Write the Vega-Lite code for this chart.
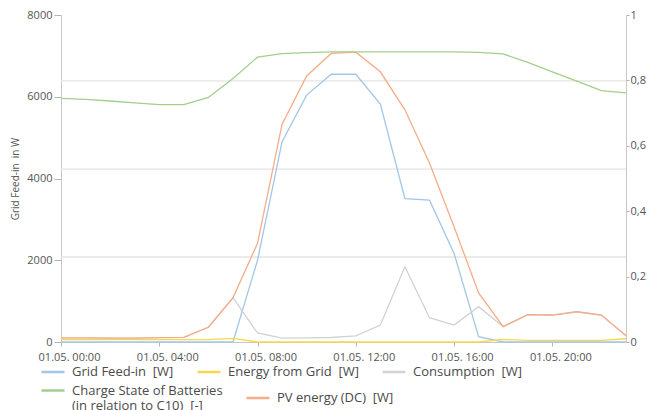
{
  "$schema": "https://vega.github.io/schema/vega-lite/v6.json",
  "width": 565,
  "height": 327,
  "autosize": {"type": "none"},
  "padding": {"left": 61, "top": 15, "right": 25, "bottom": 68},
  "background": "white",
  "config": {
    "font": "Open Sans",
    "view": {"stroke": null},
    "axis": {"labelColor": "#555", "labelFontSize": 11, "domainColor": "#c8c8c8", "tickColor": "#b5b5b5", "grid": false, "labelFont": "Open Sans"},
    "legend": {"title": null, "direction": "horizontal", "symbolType": "stroke", "symbolSize": 529, "symbolStrokeWidth": 2.5, "labelFontSize": 13, "labelColor": "#4a4a4a", "labelFont": "Open Sans", "columnPadding": 18, "labelLimit": 400, "labelOffset": 6, "padding": 0}
  },
  "data": {"values": [
    {"t": "2021-05-01T00:00", "feed": 0, "grid": 60, "cons": 100, "pv": 100, "soc": 0.745},
    {"t": "2021-05-01T01:00", "feed": 0, "grid": 60, "cons": 100, "pv": 100, "soc": 0.742},
    {"t": "2021-05-01T02:00", "feed": 0, "grid": 60, "cons": 95, "pv": 95, "soc": 0.737},
    {"t": "2021-05-01T03:00", "feed": 0, "grid": 60, "cons": 95, "pv": 95, "soc": 0.731},
    {"t": "2021-05-01T04:00", "feed": 0, "grid": 60, "cons": 105, "pv": 105, "soc": 0.726},
    {"t": "2021-05-01T05:00", "feed": 0, "grid": 60, "cons": 115, "pv": 115, "soc": 0.726},
    {"t": "2021-05-01T06:00", "feed": 0, "grid": 60, "cons": 360, "pv": 360, "soc": 0.748},
    {"t": "2021-05-01T07:00", "feed": 0, "grid": 90, "cons": 1085, "pv": 1080, "soc": 0.806},
    {"t": "2021-05-01T08:00", "feed": 2000, "grid": 0, "cons": 220, "pv": 2415, "soc": 0.871},
    {"t": "2021-05-01T09:00", "feed": 4900, "grid": 0, "cons": 95, "pv": 5330, "soc": 0.882},
    {"t": "2021-05-01T10:00", "feed": 6040, "grid": 0, "cons": 100, "pv": 6510, "soc": 0.885},
    {"t": "2021-05-01T11:00", "feed": 6550, "grid": 0, "cons": 110, "pv": 7060, "soc": 0.887},
    {"t": "2021-05-01T12:00", "feed": 6550, "grid": 0, "cons": 150, "pv": 7090, "soc": 0.887},
    {"t": "2021-05-01T13:00", "feed": 5820, "grid": 0, "cons": 415, "pv": 6610, "soc": 0.887},
    {"t": "2021-05-01T14:00", "feed": 3510, "grid": 0, "cons": 1840, "pv": 5680, "soc": 0.887},
    {"t": "2021-05-01T15:00", "feed": 3470, "grid": 0, "cons": 595, "pv": 4380, "soc": 0.887},
    {"t": "2021-05-01T16:00", "feed": 2170, "grid": 0, "cons": 415, "pv": 2820, "soc": 0.887},
    {"t": "2021-05-01T17:00", "feed": 130, "grid": 0, "cons": 865, "pv": 1200, "soc": 0.886},
    {"t": "2021-05-01T18:00", "feed": 0, "grid": 65, "cons": 375, "pv": 375, "soc": 0.881},
    {"t": "2021-05-01T19:00", "feed": 0, "grid": 40, "cons": 670, "pv": 670, "soc": 0.855},
    {"t": "2021-05-01T20:00", "feed": 0, "grid": 40, "cons": 660, "pv": 660, "soc": 0.826},
    {"t": "2021-05-01T21:00", "feed": 0, "grid": 40, "cons": 740, "pv": 740, "soc": 0.798},
    {"t": "2021-05-01T22:00", "feed": 0, "grid": 40, "cons": 660, "pv": 660, "soc": 0.769},
    {"t": "2021-05-01T23:00", "feed": 0, "grid": 80, "cons": 155, "pv": 155, "soc": 0.762}
  ]},
  "layer": [
    {
      "layer": [
        {
          "data": {"values": [{"g": 2080}, {"g": 4230}, {"g": 6390}]},
          "mark": {"type": "rule", "color": "#e4e4e4", "strokeWidth": 1.3},
          "encoding": {
            "y": {"field": "g", "type": "quantitative", "scale": {"domain": [0, 8000], "nice": false, "zero": true},
              "axis": {"title": "Grid Feed-in\u00a0 in W", "titleFontSize": 10, "titleFontWeight": "normal", "titleColor": "#555", "titlePadding": 6, "values": [0, 2000, 4000, 6000, 8000], "tickSize": 7, "labelPadding": 2, "format": "d"}}
          }
        },
        {
          "transform": [{"fold": ["feed", "grid", "cons"], "as": ["series", "value"]}],
          "mark": {"type": "line", "strokeWidth": 1.3},
          "encoding": {
            "x": {"field": "t", "type": "temporal", "title": null,
              "scale": {"domain": [{"year": 2021, "month": 5, "date": 1, "hours": 0}, {"year": 2021, "month": 5, "date": 1, "hours": 23}]},
              "axis": {"values": [{"year": 2021, "month": 5, "date": 1, "hours": 0}, {"year": 2021, "month": 5, "date": 1, "hours": 4}, {"year": 2021, "month": 5, "date": 1, "hours": 8}, {"year": 2021, "month": 5, "date": 1, "hours": 12}, {"year": 2021, "month": 5, "date": 1, "hours": 16}, {"year": 2021, "month": 5, "date": 1, "hours": 20}],
                "format": "%d.%m. %H:%M", "labelOffset": 8, "tickSize": 4, "labelPadding": 5, "labelFlush": false, "labelOverlap": false}},
            "y": {"field": "value", "type": "quantitative", "scale": {"domain": [0, 8000], "nice": false, "zero": true},
              "axis": {"title": "Grid Feed-in\u00a0 in W", "titleFontSize": 10, "titleFontWeight": "normal", "titleColor": "#555", "titlePadding": 6, "values": [0, 2000, 4000, 6000, 8000], "tickSize": 7, "labelPadding": 2, "format": "d"}},
            "color": {"field": "series", "type": "nominal",
              "scale": {"domain": ["feed", "grid", "cons"], "range": ["#a3c6e8", "#f8d74e", "#d2d2d2"]},
              "legend": {"orient": "none", "legendX": -21, "legendY": 344, "columns": 3,
                "labelExpr": "datum.value == 'feed' ? 'Grid Feed-in\u00a0 [W]' : datum.value == 'grid' ? 'Energy from Grid\u00a0 [W]' : 'Consumption\u00a0 [W]'"}}
          }
        },
        {
          "mark": {"type": "line", "strokeWidth": 1.3},
          "encoding": {
            "x": {"field": "t", "type": "temporal", "title": null},
            "y": {"field": "pv", "type": "quantitative", "scale": {"domain": [0, 8000], "nice": false, "zero": true},
              "axis": {"title": "Grid Feed-in\u00a0 in W", "titleFontSize": 10, "titleFontWeight": "normal", "titleColor": "#555", "titlePadding": 6, "values": [0, 2000, 4000, 6000, 8000], "tickSize": 7, "labelPadding": 2, "format": "d"}},
            "stroke": {"datum": "pv", "type": "nominal",
              "scale": {"domain": ["soc", "pv"], "range": ["#a2cf8a", "#f4ad86"]},
              "legend": {"orient": "none", "legendX": -21, "legendY": 362.5, "columns": 2,
                "labelExpr": "datum.value == 'soc' ? ['Charge State of Batteries', '(in relation to C10)\u00a0 [-]'] : 'PV energy (DC)\u00a0 [W]'"}}
          }
        }
      ]
    },
    {
      "mark": {"type": "line", "strokeWidth": 1.3},
      "encoding": {
        "x": {"field": "t", "type": "temporal", "title": null},
        "y": {"field": "soc", "type": "quantitative", "scale": {"domain": [0, 1], "nice": false},
          "axis": {"orient": "right", "title": null, "values": [0, 0.2, 0.4, 0.6, 0.8, 1], "tickSize": 3, "labelPadding": 1,
            "labelExpr": "datum.value == 0 ? '0' : datum.value == 1 ? '1' : replace(format(datum.value, '.1f'), '.', ',')"}},
        "stroke": {"datum": "soc", "type": "nominal"}
      }
    }
  ],
  "resolve": {"scale": {"y": "independent"}}
}
